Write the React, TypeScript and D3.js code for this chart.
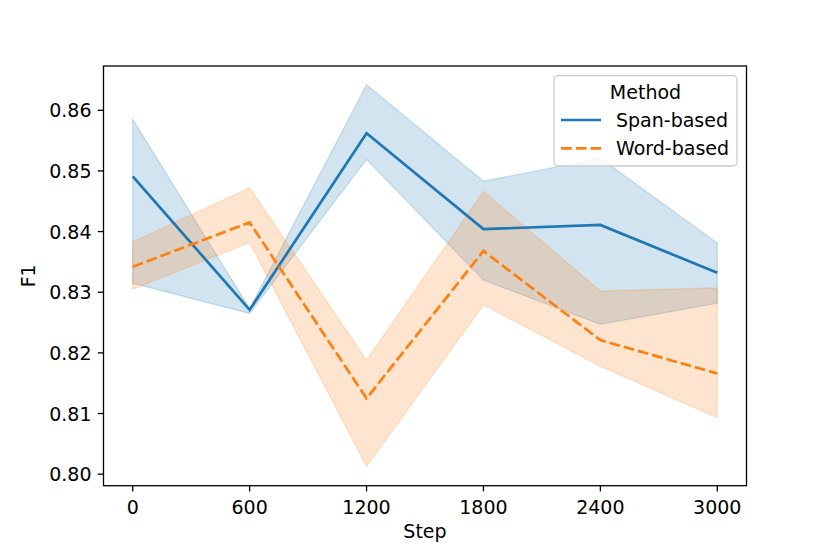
import React from "react";
import * as d3 from "d3";

// training steps on the x axis
const steps = [0, 600, 1200, 1800, 2400, 3000];

// Span-based F1: mean and confidence band
const spanMean = [0.8491, 0.8271, 0.8562, 0.8404, 0.8411, 0.8332];
const spanLow = [0.8315, 0.8265, 0.8519, 0.832, 0.8247, 0.8282];
const spanHigh = [0.8585, 0.8273, 0.8642, 0.8483, 0.8521, 0.8381];

// Word-based F1: mean and confidence band
const wordMean = [0.8342, 0.8415, 0.8125, 0.8368, 0.8221, 0.8166];
const wordLow = [0.8305, 0.8382, 0.8013, 0.8279, 0.8178, 0.8093];
const wordHigh = [0.8383, 0.8472, 0.8188, 0.8466, 0.8302, 0.8307];

const yTicks = [0.8, 0.81, 0.82, 0.83, 0.84, 0.85, 0.86];
const xTicks = [0, 600, 1200, 1800, 2400, 3000];

const WIDTH = 830;
const HEIGHT = 554;
const LEFT = 103.5;
const RIGHT = 746.5;
const TOP = 66;
const BOTTOM = 485.7;
const FONT = "DejaVu Sans";
const FS = 19;
const LW = 2.7;

const BLUE = "#1f77b4";
const ORANGE = "#ff7f0e";

export default function App() {
  const x = d3.scaleLinear().domain([-150, 3150]).range([LEFT, RIGHT]);
  const y = d3.scaleLinear().domain([0.7981, 0.8673]).range([BOTTOM, TOP]);

  const line = d3
    .line<number>()
    .x((_, i) => x(steps[i]))
    .y((d) => y(d));

  const band = (lo: number[], hi: number[]) =>
    d3
      .area<number>()
      .x((_, i) => x(steps[i]))
      .y0((_, i) => y(lo[i]))
      .y1((_, i) => y(hi[i]))(steps);

  const series = [
    { name: "Span-based", color: BLUE, mean: spanMean, lo: spanLow, hi: spanHigh, dash: undefined },
    { name: "Word-based", color: ORANGE, mean: wordMean, lo: wordLow, hi: wordHigh, dash: "10.8 4" },
  ];

  return (
    <svg
      width={WIDTH}
      height={HEIGHT}
      style={{ position: "absolute", left: 0, top: 0, background: "#fff" }}
      fontFamily={FONT}
    >
      {/* confidence bands */}
      {series.map((s) => (
        <path
          key={"band" + s.name}
          d={band(s.lo, s.hi) || ""}
          fill={s.color}
          fillOpacity={0.2}
          stroke={s.color}
          strokeOpacity={0.2}
          strokeWidth={1.3}
        />
      ))}
      {/* mean lines */}
      {series.map((s) => (
        <path
          key={"line" + s.name}
          d={line(s.mean) || ""}
          fill="none"
          stroke={s.color}
          strokeWidth={LW}
          strokeDasharray={s.dash}
        />
      ))}

      {/* y axis ticks */}
      {yTicks.map((t) => (
        <g key={"y" + t}>
          <line x1={LEFT - 5.7} x2={LEFT} y1={y(t)} y2={y(t)} stroke="#000" strokeWidth={1.3} />
          <text x={LEFT - 12} y={y(t)} textAnchor="end" dominantBaseline="central" fontSize={FS}>
            {t.toFixed(2)}
          </text>
        </g>
      ))}
      {/* x axis ticks */}
      {xTicks.map((t) => (
        <g key={"x" + t}>
          <line x1={x(t)} x2={x(t)} y1={BOTTOM} y2={BOTTOM + 5.7} stroke="#000" strokeWidth={1.3} />
          <text x={x(t)} y={BOTTOM + 21.5} textAnchor="middle" dominantBaseline="central" fontSize={FS}>
            {t}
          </text>
        </g>
      ))}

      {/* frame */}
      <rect
        x={LEFT}
        y={TOP}
        width={RIGHT - LEFT}
        height={BOTTOM - TOP}
        fill="none"
        stroke="#000"
        strokeWidth={1.3}
      />

      {/* axis labels */}
      <text x={(LEFT + RIGHT) / 2} y={531} textAnchor="middle" dominantBaseline="central" fontSize={FS}>
        Step
      </text>
      <text
        transform={`translate(28, ${(TOP + BOTTOM) / 2}) rotate(-90)`}
        textAnchor="middle"
        dominantBaseline="central"
        fontSize={FS}
      >
        F1
      </text>

      {/* legend */}
      <g>
        <rect
          x={554}
          y={75.7}
          width={183}
          height={90.3}
          rx={4}
          fill="#fff"
          fillOpacity={0.8}
          stroke="#cccccc"
          strokeWidth={1.3}
        />
        <text x={645.5} y={92} textAnchor="middle" dominantBaseline="central" fontSize={FS}>
          Method
        </text>
        {series.map((s, i) => (
          <g key={"leg" + s.name}>
            <line
              x1={561}
              x2={601}
              y1={120 + i * 28.3}
              y2={120 + i * 28.3}
              stroke={s.color}
              strokeWidth={LW}
              strokeDasharray={s.dash}
            />
            <text x={616} y={120 + i * 28.3} dominantBaseline="central" fontSize={FS}>
              {s.name}
            </text>
          </g>
        ))}
      </g>
    </svg>
  );
}
